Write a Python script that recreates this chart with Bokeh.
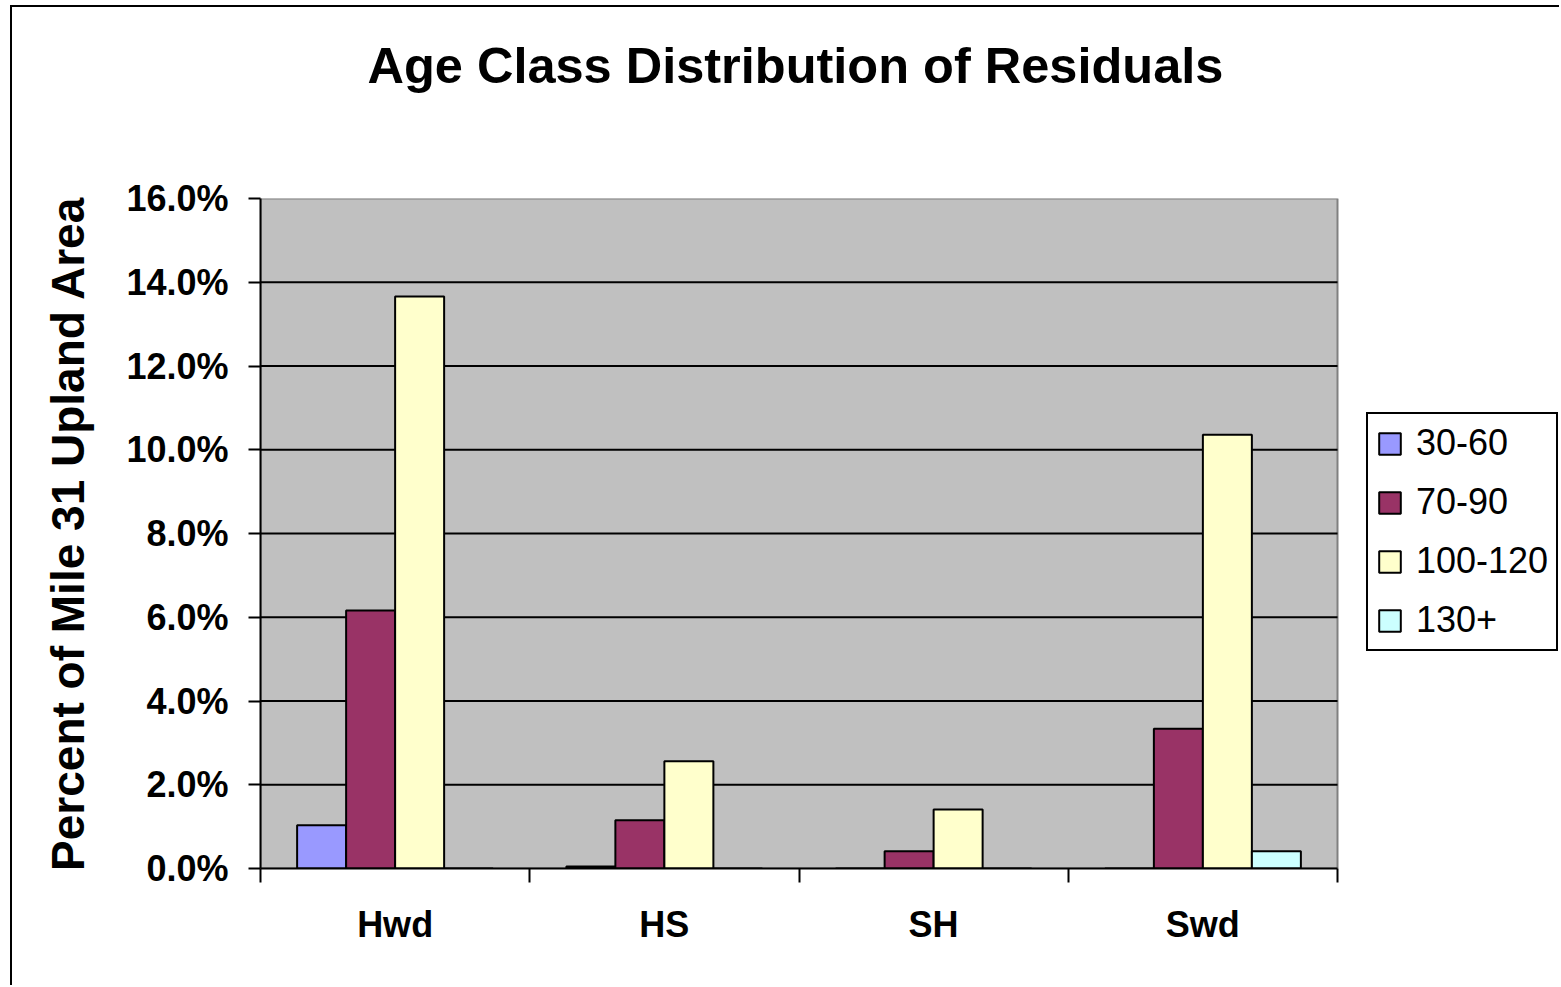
from bokeh.plotting import figure
from bokeh.models import (ColumnDataSource, Range1d, LinearAxis, Title, BoxAnnotation,
                          FixedTicker, NumeralTickFormatter, Legend, LegendItem)
from bokeh.transform import dodge
from bokeh.embed import file_html
from bokeh.resources import INLINE

categories = ["Hwd", "HS", "SH", "Swd"]
series_names = ["30-60", "70-90", "100-120", "130+"]
s_30_60 = [0.0103, 0.0005, 0.0, 0.0]
s_70_90 = [0.0616, 0.0115, 0.0041, 0.0334]
s_100_120 = [0.1366, 0.0256, 0.0141, 0.1036]
s_130p = [0.0, 0.0, 0.0, 0.0041]
colors = ["#9999FF", "#993366", "#FFFFCC", "#CCFFFF"]
y_ticks = [0.0, 0.02, 0.04, 0.06, 0.08, 0.10, 0.12, 0.14, 0.16]
y_max = 0.16

FONT = "Liberation Sans"

n = len(categories)
centers = [i + 0.5 for i in range(n)]
bounds = [float(i) for i in range(n + 1)]
grid_vals = y_ticks[1:-1]

# layout: plot area 1077 px wide for the categories, extra room on the right for the legend
FRAME_W = 1301
CAT_W = 1077
x_end = n * FRAME_W / CAT_W

src = ColumnDataSource(dict(xc=centers, a=s_30_60, b=s_70_90, c=s_100_120, d=s_130p))
gsrc = ColumnDataSource(dict(y=grid_vals, x0=[0] * len(grid_vals), x1=[n] * len(grid_vals)))

p = figure(x_range=Range1d(0, x_end), y_range=Range1d(0, y_max),
           width=1549, height=980, output_backend="svg", toolbar_location=None,
           x_axis_location=None, y_axis_location="left",
           min_border_left=248, min_border_right=0, min_border_top=191, min_border_bottom=119)
p.styles = {"border-left": "2px solid black", "border-top": "2px solid black",
            "margin-left": "10px", "margin-top": "5px"}

p.title.text = "Age Class Distribution of Residuals"
p.title.text_font = FONT
p.title.text_font_size = "50.5px"
p.title.text_font_style = "bold"
p.title.text_color = "black"
p.title.align = "left"
p.title.offset = 107
p.title.vertical_align = "bottom"
p.title.standoff = 10

# spacer between title and plot area
spacer = Title(text=" ", text_font_size="1px", standoff=97)
p.add_layout(spacer, "above")

p.background_fill_color = "white"
p.border_fill_color = "white"
p.outline_line_color = None
p.grid.visible = False

plot_area = BoxAnnotation(left=0, right=n, bottom=0, top=y_max, fill_color="#C0C0C0", fill_alpha=1,
                          line_color="#808080", line_width=2, line_alpha=1, level="image")
p.add_layout(plot_area)

p.segment(x0="x0", x1="x1", y0="y", y1="y", source=gsrc, line_color="black", line_width=2)

w = 0.182
offs = [-1.5 * w, -0.5 * w, 0.5 * w, 1.5 * w]
renderers = []
for key, off, col in zip(["a", "b", "c", "d"], offs, colors):
    r = p.vbar(x=dodge("xc", off), top=key, width=w, source=src,
               fill_color=col, line_color="black", line_width=2)
    renderers.append(r)

# y axis
ya = p.yaxis[0]
ya.ticker = FixedTicker(ticks=y_ticks)
ya.formatter = NumeralTickFormatter(format="0.0%")
ya.axis_label = "Percent of Mile 31 Upland Area"
ya.axis_label_text_font = FONT
ya.axis_label_text_font_size = "46px"
ya.axis_label_text_font_style = "bold"
ya.axis_label_text_color = "black"
ya.axis_label_standoff = 29
ya.major_label_text_font = FONT
ya.major_label_text_font_size = "36px"
ya.major_label_text_font_style = "bold"
ya.major_label_text_color = "black"
ya.major_label_standoff = 20
ya.major_tick_out = 12
ya.major_tick_in = 0
ya.minor_tick_line_color = None
ya.axis_line_color = "black"
ya.axis_line_width = 2
ya.major_tick_line_width = 2

# x tick axis at category boundaries
xt = LinearAxis(ticker=FixedTicker(ticks=bounds), bounds=(0, n))
xt.major_label_text_font_size = "0px"
xt.major_label_text_color = None
xt.major_tick_out = 14
xt.major_tick_in = 0
xt.minor_tick_line_color = None
xt.axis_line_color = "black"
xt.axis_line_width = 2
xt.major_tick_line_width = 2
xt.major_label_standoff = 0
p.add_layout(xt, "below")

# category label axis
xc = LinearAxis(ticker=FixedTicker(ticks=centers), bounds=(0, n))
xc.major_label_overrides = {c: lab for c, lab in zip(centers, categories)}
xc.axis_line_color = None
xc.major_tick_line_color = None
xc.minor_tick_line_color = None
xc.major_label_text_font = FONT
xc.major_label_text_font_size = "36px"
xc.major_label_text_font_style = "bold"
xc.major_label_text_color = "black"
xc.major_label_standoff = 15
p.add_layout(xc, "below")

legend = Legend(items=[LegendItem(label=nm, renderers=[r]) for nm, r in zip(series_names, renderers)],
                location=(1106, 217))
legend.label_text_font = FONT
legend.label_text_font_size = "36px"
legend.label_text_color = "black"
legend.glyph_width = 27
legend.glyph_height = 27
legend.label_standoff = 13
legend.spacing = 17
legend.padding = 8
legend.margin = 0
legend.border_line_color = "black"
legend.border_line_alpha = 1
legend.border_line_width = 2
legend.background_fill_color = "white"
legend.background_fill_alpha = 1
p.add_layout(legend, "center")

open("out.html", "w").write(file_html(p, INLINE))
